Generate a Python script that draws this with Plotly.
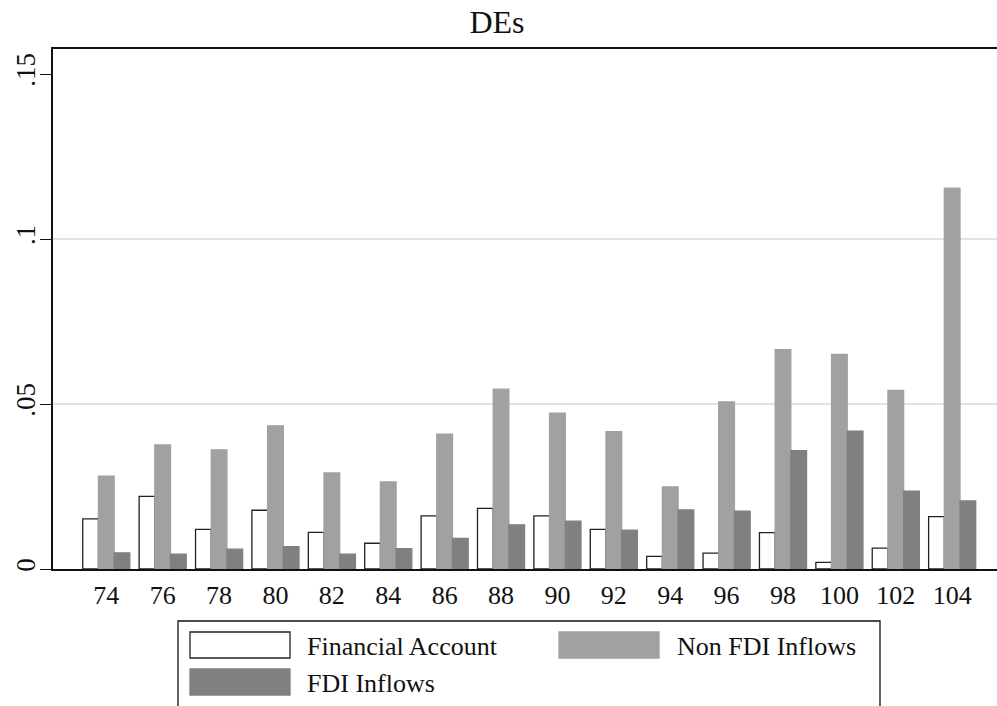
import plotly.graph_objects as go

# ---- data ----
years = [74, 76, 78, 80, 82, 84, 86, 88, 90, 92, 94, 96, 98, 100, 102, 104]
financial_account = [0.0152, 0.0220, 0.0120, 0.0178, 0.0111, 0.0078, 0.0161, 0.0184,
                     0.0161, 0.0120, 0.0038, 0.0048, 0.0110, 0.0020, 0.0063, 0.0159]
non_fdi_inflows = [0.0281, 0.0376, 0.0361, 0.0434, 0.0291, 0.0264, 0.0409, 0.0545,
                   0.0472, 0.0416, 0.0249, 0.0506, 0.0665, 0.0650, 0.0541, 0.1154]
fdi_inflows = [0.0049, 0.0045, 0.0060, 0.0068, 0.0045, 0.0062, 0.0093, 0.0134,
               0.0145, 0.0118, 0.0179, 0.0175, 0.0359, 0.0418, 0.0236, 0.0206]
series_names = ["Financial Account", "Non FDI Inflows", "FDI Inflows"]
y_tick_vals = [0, 0.05, 0.1, 0.15]
y_tick_text = ["0", ".05", ".1", ".15"]
grid_vals = [0.05, 0.1]
title_text = "DEs"

# ---- style ----
FONT = "Liberation Serif"
W, H = 997, 706
ML, MR, MT, MB = 53, 0, 49, 137
PW, PH = W - ML - MR, H - MT - MB
fill_colors = ["#ffffff", "#a1a1a1", "#808080"]
line_colors = ["#222222", "#a1a1a1", "#808080"]

fig = go.Figure()
for name, vals, fc, lc in zip(series_names,
                              [financial_account, non_fdi_inflows, fdi_inflows],
                              fill_colors, line_colors):
    fig.add_trace(go.Bar(x=years, y=vals, name=name,
                         marker=dict(color=fc, line=dict(color=lc, width=1.3)),
                         showlegend=False))

def px(x):
    return (x - ML) / PW

def py(y):
    return (H - MB - y) / PH

shapes = []
annotations = []
# legend box
shapes.append(dict(type="rect", xref="paper", yref="paper",
                   x0=px(178), x1=px(880), y0=py(740), y1=py(621),
                   line=dict(color="#111111", width=1.3), fillcolor="rgba(0,0,0,0)"))
legend_slots = [(190, 632), (559, 632), (190, 669)]
text_left = [305, 675, 305]
for (sx, sy), tx, name, fc, lc in zip(legend_slots, text_left, series_names,
                                      fill_colors, line_colors):
    shapes.append(dict(type="rect", xref="paper", yref="paper",
                       x0=px(sx), x1=px(sx + 100), y0=py(sy + 26), y1=py(sy),
                       fillcolor=fc, line=dict(color=lc, width=1.3)))
    annotations.append(dict(xref="paper", yref="paper", x=px(tx), y=py(sy + 14),
                            xanchor="left", yanchor="middle", text=name,
                            showarrow=False,
                            font=dict(family=FONT, size=26, color="#111111")))

fig.update_layout(
    width=W, height=H,
    margin=dict(l=ML, r=MR, t=MT, b=MB, autoexpand=False),
    paper_bgcolor="white", plot_bgcolor="white",
    barmode="group", bargap=0.165, bargroupgap=0,
    font=dict(family=FONT, color="#111111"),
    title=dict(text=title_text, x=497 / W, xanchor="center", xref="container",
               y=1 - 22 / H, yanchor="middle", yref="container",
               font=dict(family=FONT, size=32, color="#111111")),
    shapes=shapes, annotations=annotations,
)
fig.update_xaxes(range=[72.11, 105.59], tickvals=years, ticktext=[str(y) for y in years],
                 showline=True, linecolor="#111111", linewidth=1.5, mirror=True,
                 showgrid=False, zeroline=False, ticks="", ticklabelstandoff=2,
                 automargin=False,
                 tickfont=dict(family=FONT, size=26, color="#111111"))
fig.update_yaxes(range=[0, (H - MB - MT) / 3300], tickvals=y_tick_vals, ticktext=y_tick_text,
                 tickangle=-90, showline=True, linecolor="#111111", linewidth=1.5,
                 showgrid=False, zeroline=False, ticks="outside", ticklen=11,
                 tickcolor="#111111", tickwidth=1.3, ticklabelstandoff=-6,
                 automargin=False,
                 tickfont=dict(family=FONT, size=27, color="#111111"),
                 minor=dict(tickvals=grid_vals, showgrid=True, gridcolor="#e3e3e3",
                            gridwidth=2.2, ticks=""))

fig.write_html("out.html", config={"displayModeBar": False},
               post_script="document.body.style.margin='0px';"
                           "document.body.style.overflow='hidden';")
